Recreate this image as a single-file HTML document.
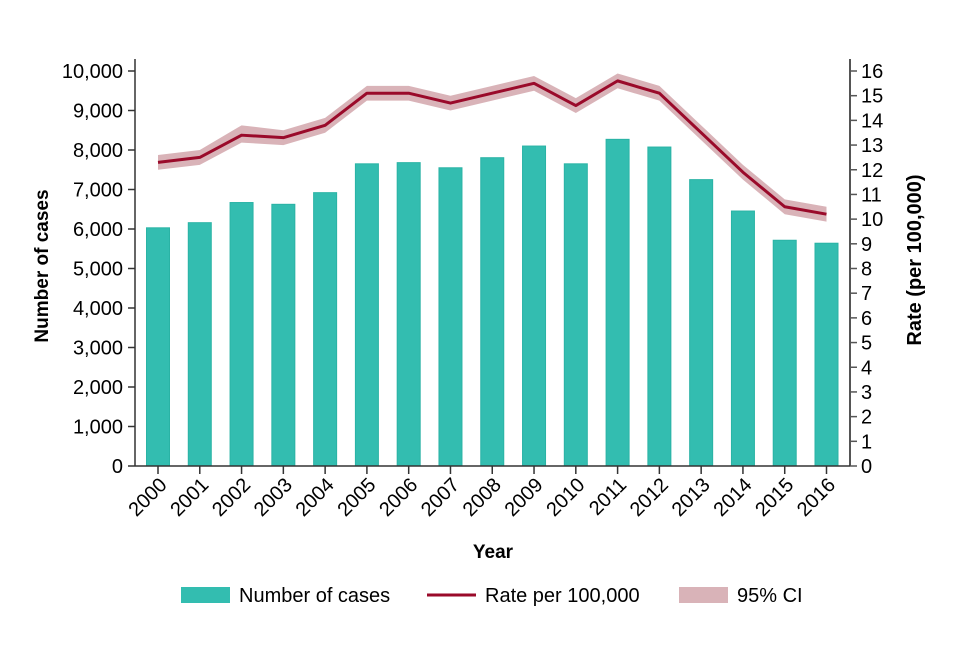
<!DOCTYPE html>
<html><head><meta charset="utf-8"><style>
body{margin:0;background:#fff;font-family:"Liberation Sans",Arial,sans-serif}
svg text{font-family:"Liberation Sans",Arial,sans-serif;fill:#000}
</style></head><body>
<svg id="chart" width="960" height="640" xmlns="http://www.w3.org/2000/svg"></svg>
<script>
const years=["2000","2001","2002","2003","2004","2005","2006","2007","2008","2009","2010","2011","2012","2013","2014","2015","2016"];
const cases=[6030,6160,6670,6625,6920,7650,7680,7550,7805,8100,7650,8270,8075,7250,6455,5715,5640];
const rate=[12.3,12.5,13.4,13.3,13.8,15.1,15.1,14.7,15.1,15.5,14.6,15.6,15.1,13.5,11.9,10.5,10.2];
const ciLow=[12.0,12.2,13.1,13.0,13.5,14.8,14.8,14.4,14.8,15.2,14.3,15.3,14.8,13.2,11.6,10.2,9.9];
const ciHigh=[12.6,12.8,13.8,13.6,14.1,15.4,15.4,15.0,15.4,15.8,14.9,15.9,15.4,13.8,12.2,10.8,10.5];
const leftTicks=[0,1000,2000,3000,4000,5000,6000,7000,8000,9000,10000];
const rightTicks=[0,1,2,3,4,5,6,7,8,9,10,11,12,13,14,15,16];

const svg=document.getElementById('chart');
const NS='http://www.w3.org/2000/svg';
const X0=135,X1=850,Y0=466,Y1=71;
const xc=i=>158+i*(826.5-158)/16;
const yL=v=>Y0-(Y0-Y1)*v/10000;
const yR=v=>Y0-(Y0-Y1)*v/16;
function mk(tag,at,parent){const e=document.createElementNS(NS,tag);for(const k in at)e.setAttribute(k,at[k]);(parent||svg).appendChild(e);return e;}

cases.forEach((v,i)=>{
 const r=mk('rect',{x:xc(i)-11.5,y:yL(v),width:23,height:Y0-yL(v),fill:'#33bdb0',stroke:'#2ab3a5','stroke-width':1});
 
 
});
let d='M'+ciHigh.map((v,i)=>xc(i)+','+yR(v)).join('L')+'L'+ciLow.map((v,i)=>xc(i)+','+yR(v)).reverse().join('L')+'Z';
const band=mk('path',{d:d,fill:'#d9b3b8',stroke:'none'});


const line=mk('polyline',{points:rate.map((v,i)=>xc(i)+','+yR(v)).join(' '),fill:'none',stroke:'#9a0a2a','stroke-width':3,'stroke-linejoin':'round'});



const la=mk('line',{x1:X0,y1:Y1-12,x2:X0,y2:Y0,stroke:'#333','stroke-width':1.5});


const ra=mk('line',{x1:X1,y1:Y1-12,x2:X1,y2:Y0,stroke:'#555','stroke-width':2});


const xa=mk('line',{x1:X0,y1:Y0,x2:X1,y2:Y0,stroke:'#333','stroke-width':1.5});


leftTicks.forEach(v=>{
 mk('line',{x1:X0-7,y1:yL(v),x2:X0,y2:yL(v),stroke:'#333','stroke-width':1.5});
 const t=mk('text',{x:X0-12,y:yL(v)+7,'text-anchor':'end','font-size':20});
 t.textContent=v.toLocaleString('en-US');
 
 
});
rightTicks.forEach(v=>{
 mk('line',{x1:X1,y1:yR(v),x2:X1+7,y2:yR(v),stroke:'#555','stroke-width':1.5});
 const t=mk('text',{x:X1+11,y:yR(v)+7,'font-size':20});
 t.textContent=v;
 
 
});
years.forEach((y,i)=>{
 mk('line',{x1:xc(i),y1:Y0,x2:xc(i),y2:Y0+8,stroke:'#333','stroke-width':1.5});
 const t=mk('text',{x:xc(i)+10,y:Y0+20,'text-anchor':'end','font-size':20,transform:`rotate(-45 ${xc(i)+10} ${Y0+20})`});
 t.textContent=y;
 
 
});
const xt=mk('text',{x:493,y:558,'text-anchor':'middle','font-size':19,'font-weight':'bold'});xt.textContent='Year';


const yt=mk('text',{x:48,y:266,'text-anchor':'middle','font-size':19,'font-weight':'bold',transform:'rotate(-90 48 266)'});yt.textContent='Number of cases';


const yt2=mk('text',{x:921,y:260,'text-anchor':'middle','font-size':20,'font-weight':'bold',transform:'rotate(-90 921 260)'});yt2.textContent='Rate (per 100,000)';



const g=mk('g',{});


mk('rect',{x:181,y:587,width:49,height:16,fill:'#33bdb0'},g);
let t1=mk('text',{x:239,y:602,'font-size':20},g);t1.textContent='Number of cases';


mk('line',{x1:427,y1:595,x2:476,y2:595,stroke:'#9a0a2a','stroke-width':3},g);
let t2=mk('text',{x:485,y:602,'font-size':20},g);t2.textContent='Rate per 100,000';


mk('rect',{x:679,y:587,width:49,height:16,fill:'#d9b3b8'},g);
let t3=mk('text',{x:737,y:602,'font-size':20},g);t3.textContent='95% CI';


</script>
</body></html>
